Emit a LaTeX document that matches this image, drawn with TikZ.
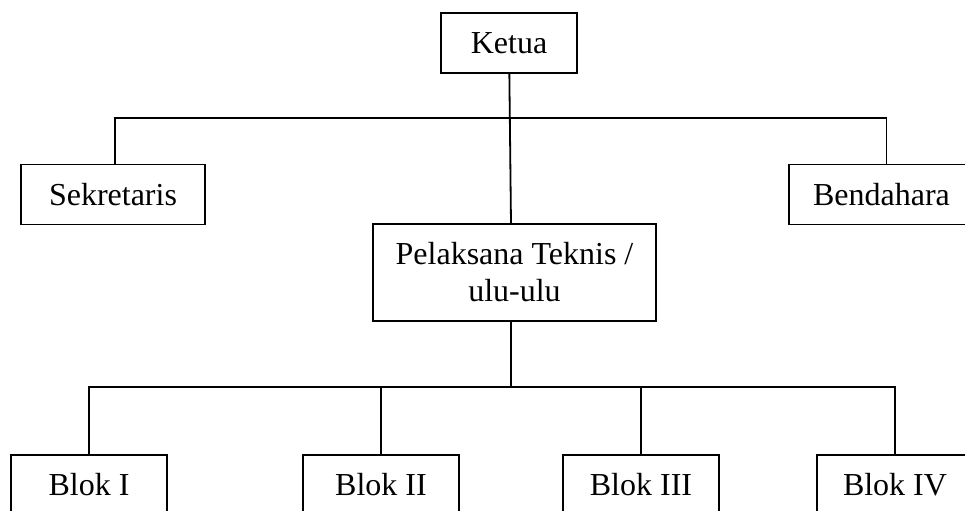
\documentclass[tikz,border=0pt]{standalone}
\usepackage{fontspec}
\setmainfont{Liberation Serif}
\usepackage{tikz}
\usetikzlibrary{positioning,calc}
\tikzset{kotak/.style={draw,line width=.9pt,align=center,inner sep=0pt,minimum height=30pt},
garis/.style={line width=.9pt}}

\begin{document}
\begin{tikzpicture}[x=.5pt,y=-.5pt,font=\fontsize{16}{18.5}\selectfont]
\path[use as bounding box,clip] (0,0) rectangle (965,510);
\node[kotak,minimum width=68pt] (ketua) at (509,43) {Ketua};
\node[kotak,minimum width=92pt] (sekretaris) at (113,194.5) {Sekretaris};
\node[kotak,minimum width=92.5pt] (bendahara) at (881.5,194.5) {Bendahara};
\node[kotak,minimum width=141.5pt,minimum height=48.5pt] (pelaksana) at (514.5,272.5) {Pelaksana Teknis /\\ulu-ulu};
\foreach \i/\x/\teks in {1/89/Blok I,2/381/Blok II,3/641/Blok III,4/895/Blok IV}{
\node[kotak,minimum width=78pt] (blok\i) at (\x,485) {\teks};}
\coordinate (atas) at (509,118);
\coordinate (bawah) at (511,387);
\draw[garis] (ketua) -- (pelaksana.north -| bawah);
\draw[garis] ([xshift=1pt]sekretaris.north) |- (atas) -| ([xshift=2.5pt]bendahara.north);
\draw[garis] (pelaksana.south -| bawah) -- (bawah);
\draw[garis] (blok1) |- (bawah) -| (blok4);
\draw[garis] (blok2) -- (blok2 |- bawah);
\draw[garis] (blok3) -- (blok3 |- bawah);
\end{tikzpicture}
\end{document}
